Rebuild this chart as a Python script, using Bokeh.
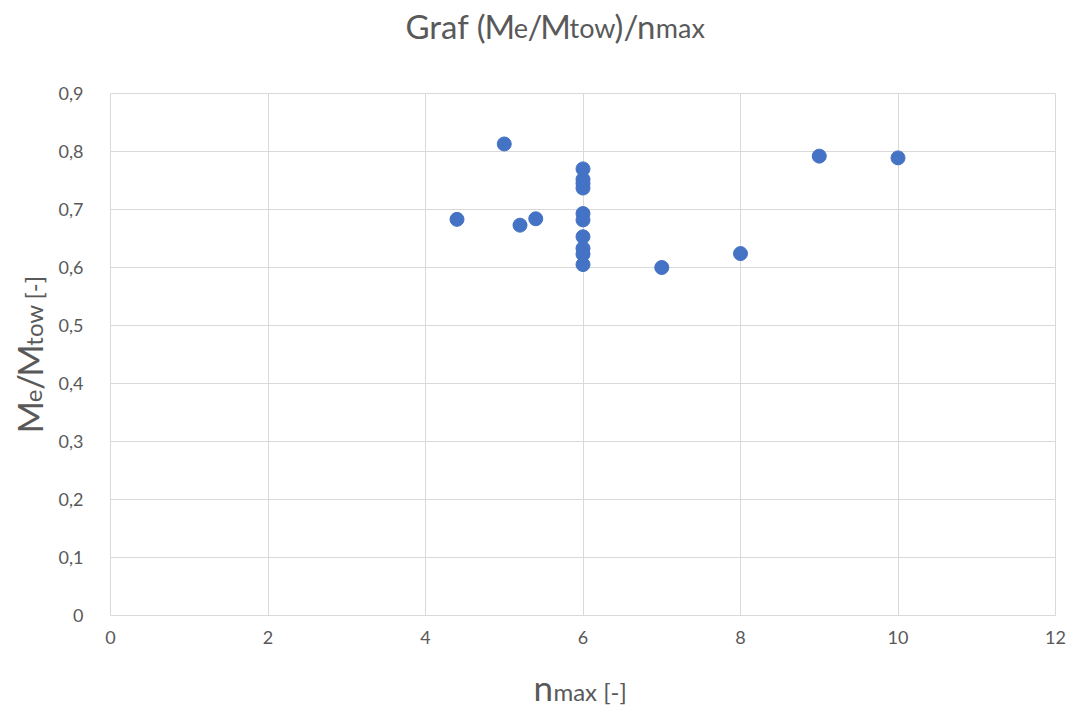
import math
from bokeh.plotting import figure
from bokeh.layouts import column, row
from bokeh.models import Range1d, FixedTicker, CustomJSTickFormatter, Label, ColumnDataSource
from bokeh.embed import file_html
from bokeh.resources import INLINE

# ---- data ----
n_max = [4.4, 5.0, 5.2, 5.4, 6, 6, 6, 6, 6, 6, 6, 6, 6, 6, 7, 8, 9, 10]
me_mtow = [0.683, 0.813, 0.673, 0.684, 0.770, 0.752, 0.745, 0.737, 0.693, 0.682,
           0.653, 0.633, 0.623, 0.605, 0.600, 0.624, 0.792, 0.789]
x_ticks = [0, 2, 4, 6, 8, 10, 12]
y_ticks = [0, 0.1, 0.2, 0.3, 0.4, 0.5, 0.6, 0.7, 0.8, 0.9]

title_parts = [("Graf (", "big"), ("M", "big"), ("e", "small"), ("/", "big"), ("M", "big"),
               ("tow", "small"), (")/", "big"), ("n", "big"), ("max", "small")]
xlabel_parts = [("n", "big"), ("max [-]", "small")]
ylabel_parts = [("M", "big"), ("e", "small"), ("/", "big"), ("M", "big"),
                ("tow", "small"), ("[-]", "small")]

FONT = "Lato"
GREY = "#595959"
GRID = "#d9d9d9"

W, H = 1067, 709
TITLE_H = 65
YLAB_W = 55
XLAB_H = 44
MAIN_W = W - YLAB_W
MAIN_H = H - TITLE_H - XLAB_H
FRAME_T = 93 - TITLE_H
FRAME_L = 108 - YLAB_W
FRAME_H = 522
FRAME_R = 12
FRAME_B = MAIN_H - FRAME_T - FRAME_H

# ---- main chart ----
p = figure(width=MAIN_W, height=MAIN_H, output_backend="svg", toolbar_location=None,
           x_range=Range1d(0, 12), y_range=Range1d(0, 0.9),
           min_border_left=FRAME_L, min_border_right=FRAME_R,
           min_border_top=FRAME_T, min_border_bottom=FRAME_B)
p.background_fill_color = "white"
p.border_fill_color = "white"
p.outline_line_color = GRID
p.outline_line_width = 1

for ax in (p.xaxis, p.yaxis):
    ax.axis_line_color = None
    ax.major_tick_line_color = None
    ax.minor_tick_line_color = None
    ax.major_label_text_color = GREY
    ax.major_label_text_font = FONT
    ax.major_label_text_font_size = "18px"

p.xaxis.ticker = FixedTicker(ticks=x_ticks)
p.yaxis.ticker = FixedTicker(ticks=y_ticks)
p.yaxis.formatter = CustomJSTickFormatter(
    code="if (Math.abs(tick) < 1e-9) return '0'; return tick.toFixed(1).replace('.', ',');")
p.xaxis.major_label_standoff = 9
p.yaxis.major_label_standoff = 21

p.xgrid.ticker = FixedTicker(ticks=x_ticks)
p.ygrid.ticker = FixedTicker(ticks=y_ticks)
for g in (p.xgrid, p.ygrid):
    g.grid_line_color = GRID
    g.grid_line_width = 1

src = ColumnDataSource(dict(x=n_max, y=me_mtow))
p.scatter("x", "y", source=src, size=14, fill_color="#4472C4", line_color="#4472C4")

# ---- text panels ----
# Data coordinates of each panel = page pixels (x from left, y as minus pixels from top).
ADV = {" ": 0.193, "(": 0.30, ")": 0.30, "/": 0.38, "G": 0.72, "M": 0.89, "a": 0.49,
       "e": 0.51, "f": 0.32, "m": 0.83, "n": 0.57, "o": 0.56, "r": 0.37, "t": 0.34,
       "w": 0.77, "x": 0.48, "[": 0.30, "]": 0.30, "-": 0.36}
K = 0.39  # distance from text middle to alphabetic baseline (fraction of font size)


def text_panel(w, h, page_left, page_top, border_top=0, border_bottom=0):
    ft = page_top + border_top
    fb = page_top + h - border_bottom
    f = figure(width=w, height=h, output_backend="svg", toolbar_location=None,
               x_range=Range1d(page_left, page_left + w), y_range=Range1d(-fb, -ft),
               x_axis_location=None, y_axis_location=None,
               min_border=0, min_border_left=0, min_border_right=0,
               min_border_top=border_top, min_border_bottom=border_bottom)
    f.grid.visible = False
    f.outline_line_color = None
    f.background_fill_color = "white"
    f.border_fill_color = "white"
    return f


def rich(f, parts, x, y_page, sizes, vertical=False, gap=None):
    """x, y_page: baseline start in page pixels."""
    y = -y_page
    pos = 0.0
    for i, (txt, kind) in enumerate(parts):
        sz = sizes[kind]
        adv = sum(ADV.get(c, 0.5) for c in txt) * sz
        if gap and i in gap:
            pos += gap[i]
        if vertical:
            f.add_layout(Label(x=x - K * sz, y=y + pos, text=txt, text_font=FONT,
                               text_font_size=f"{sz}px", text_color=GREY,
                               text_align="left", text_baseline="middle",
                               angle=math.pi / 2))
        else:
            f.add_layout(Label(x=x + pos, y=y + K * sz, text=txt, text_font=FONT,
                               text_font_size=f"{sz}px", text_color=GREY,
                               text_align="left", text_baseline="middle"))
        pos += adv


tf = text_panel(W, TITLE_H, 0, 0)
rich(tf, title_parts, 405, 38, {"big": 33, "small": 27})

yf = text_panel(YLAB_W, MAIN_H, 0, TITLE_H, border_top=FRAME_T, border_bottom=FRAME_B)
rich(yf, ylabel_parts, 42, 433, {"big": 35, "small": 24}, vertical=True, gap={5: 6})

xf = text_panel(W, XLAB_H, 0, H - XLAB_H)
rich(xf, xlabel_parts, 533, 700, {"big": 35, "small": 24})

layout = column(tf, row(yf, p, spacing=0), xf, spacing=0)

open("out.html", "w").write(file_html(layout, INLINE))
